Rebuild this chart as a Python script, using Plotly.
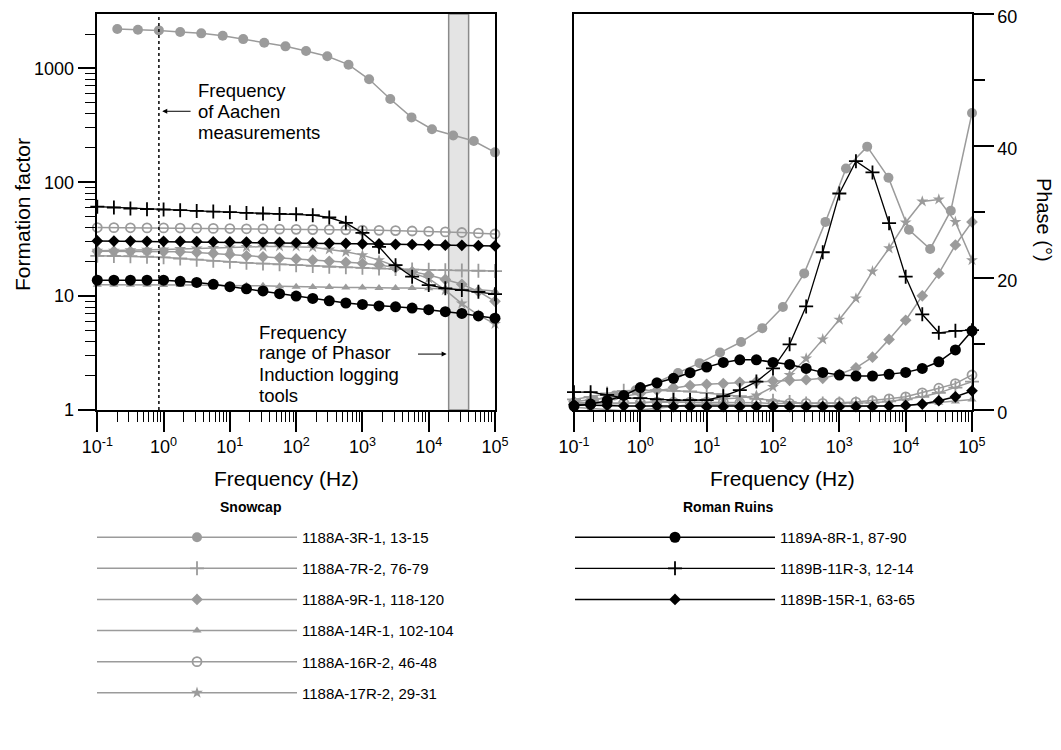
import math
import plotly.graph_objects as go

# ---------------- data ----------------
# frequencies (Hz), 4 per decade
freq = [0.1, 0.178, 0.316, 0.562, 1, 1.78, 3.16, 5.62, 10, 17.8, 31.6, 56.2,
        100, 178, 316, 562, 1000, 1780, 3160, 5620, 10000, 17800, 31600, 56200, 100000]
# frequencies for sample 1188A-3R-1
freq_3r1 = [0.2, 0.41, 0.85, 1.78, 3.7, 7.8, 15.9, 33, 69, 141, 295, 617, 1260,
            2630, 5500, 11200, 23400, 47900, 100000]

# formation factor
ff_3r1 = [2213, 2183, 2154, 2084, 2028, 1935, 1806, 1678, 1560, 1419, 1275, 1077, 801,
          538, 371, 292, 257, 230, 183]
ff_7r2 = [22.6, 22.5, 22.4, 22.2, 21.9, 21.4, 20.9, 20.4, 20.0, 19.6, 19.3, 19.0, 18.7,
          18.4, 18.1, 17.9, 17.7, 17.5, 17.3, 17.1, 17.0, 16.9, 16.8, 16.7, 16.6]
ff_9r1 = [24.8, 24.8, 24.7, 24.7, 24.6, 24.5, 24.2, 23.7, 23.2, 22.6, 22.1, 21.7, 21.2,
          20.7, 20.2, 19.8, 19.4, 18.8, 17.8, 16.4, 15.3, 14.0, 12.7, 11.0, 9.0]
ff_14r1 = [12.6, 12.6, 12.6, 12.6, 12.5, 12.5, 12.5, 12.4, 12.4, 12.3, 12.3, 12.2, 12.1,
           12.0, 12.0, 11.9, 11.9, 11.8, 11.8, 11.8, 11.7, 11.7, 11.6, 11.4, 11.1]
ff_16r2 = [40.0, 39.9, 39.8, 39.7, 39.7, 39.6, 39.5, 39.3, 39.2, 39.0, 38.9, 38.7, 38.6,
           38.4, 38.3, 38.2, 38.0, 37.8, 37.6, 37.3, 37.0, 36.6, 36.2, 35.7, 35.1]
ff_17r2 = [25.0, 25.1, 25.3, 25.5, 25.7, 25.9, 26.2, 26.5, 26.8, 27.0, 27.2, 27.3, 27.3,
           26.9, 25.7, 24.5, 22.9, 20.7, 18.3, 16.0, 14.3, 11.3, 8.6, 6.8, 5.7]
ff_8r1 = [13.8, 13.8, 13.8, 13.8, 13.8, 13.5, 13.2, 12.7, 12.1, 11.6, 11.1, 10.5, 10.0,
          9.55, 9.1, 8.7, 8.45, 8.2, 8.05, 7.85, 7.6, 7.3, 7.05, 6.7, 6.4]
ff_11r3 = [61.0, 60.0, 58.8, 58.0, 57.6, 56.8, 56.0, 55.3, 54.6, 53.8, 53.1, 52.7, 52.4,
           51.4, 49.0, 44.0, 35.9, 27.1, 18.7, 14.8, 12.5, 11.7, 11.3, 10.9, 10.4]
ff_15r1 = [30.5, 30.4, 30.4, 30.3, 30.3, 30.2, 30.1, 30.0, 29.9, 29.8, 29.7, 29.6, 29.4,
           29.3, 29.1, 29.0, 28.8, 28.7, 28.5, 28.4, 28.2, 28.0, 27.9, 27.7, 27.6]

# phase (degrees)
ph_3r1 = [1.5, 2.2, 3.0, 4.2, 5.6, 7.1, 8.7, 10.3, 12.4, 15.6, 20.7, 28.5, 36.6,
          39.9, 35.2, 27.3, 24.4, 30.2, 45.0]
ph_7r2 = [1.6, 2.0, 2.5, 2.9, 3.0, 3.0, 2.9, 2.8, 2.6, 2.4, 2.1, 1.7, 1.4,
          1.2, 1.0, 1.0, 1.0, 1.0, 1.1, 1.3, 1.6, 2.0, 2.6, 3.4, 4.3]
ph_9r1 = [1.3, 1.5, 1.8, 2.1, 2.5, 3.0, 3.4, 3.7, 3.9, 4.0, 4.2, 4.3, 4.4,
          4.5, 4.6, 4.8, 5.4, 6.4, 8.0, 10.7, 13.6, 17.3, 20.7, 25.0, 28.5]
ph_14r1 = [0.4, 0.2, 0.0, -0.1, 0.0, 0.3, 0.6, 0.8, 0.9, 0.9, 0.8, 0.7, 0.6,
           0.5, 0.5, 0.5, 0.5, 0.5, 0.6, 0.6, 0.7, 0.9, 1.1, 1.3, 1.6]
ph_16r2 = [1.0, 1.0, 1.0, 1.1, 1.1, 1.2, 1.2, 1.2, 1.2, 1.2, 1.1, 1.1, 1.0,
           1.0, 1.0, 1.0, 1.1, 1.2, 1.4, 1.7, 2.0, 2.6, 3.3, 4.0, 5.3]
ph_17r2 = [1.2, 1.0, 0.9, 1.0, 1.1, 1.2, 1.3, 1.4, 1.5, 1.7, 1.8, 2.2, 3.5,
           5.3, 7.8, 10.7, 13.7, 16.9, 21.0, 24.5, 28.4, 31.6, 31.9, 28.5, 22.7]
ph_8r1 = [0.6, 0.9, 1.4, 2.2, 3.4, 4.1, 4.8, 5.65, 6.5, 7.2, 7.6, 7.6, 7.2,
          6.9, 6.3, 5.7, 5.3, 5.15, 5.15, 5.4, 5.7, 6.3, 7.3, 9.1, 12.0]
ph_11r3 = [2.7, 2.7, 2.3, 1.8, 1.8, 1.6, 1.5, 1.5, 1.5, 2.1, 3.0, 4.3, 6.3,
           9.95, 15.7, 23.9, 32.8, 37.7, 36.0, 28.3, 20.2, 14.5, 11.7, 12.0, 12.1]
ph_15r1 = [0.8, 0.7, 0.7, 0.6, 0.6, 0.6, 0.5, 0.5, 0.5, 0.5, 0.5, 0.5, 0.5,
           0.5, 0.5, 0.5, 0.5, 0.5, 0.5, 0.6, 0.7, 0.9, 1.4, 2.0, 2.9]

labels_snowcap = ["1188A-3R-1, 13-15", "1188A-7R-2, 76-79", "1188A-9R-1, 118-120",
                  "1188A-14R-1, 102-104", "1188A-16R-2, 46-48", "1188A-17R-2, 29-31"]
labels_roman = ["1189A-8R-1, 87-90", "1189B-11R-3, 12-14", "1189B-15R-1, 63-65"]

x_tickvals = [0.1, 1, 10, 100, 1000, 10000, 100000]
x_ticktext = ["10<sup>-1</sup>", "10<sup>0</sup>", "10<sup>1</sup>", "10<sup>2</sup>",
              "10<sup>3</sup>", "10<sup>4</sup>", "10<sup>5</sup>"]
ff_tickvals = [1, 10, 100, 1000]
ph_tickvals = [0, 20, 40, 60]
ph_minor = [10, 30, 50]

aachen_freq = 0.85
phasor_band = [20000, 40000]

aachen_lines = ["Frequency", "of Aachen", "measurements"]
phasor_lines = ["Frequency", "range of Phasor", "Induction logging", "tools"]

# ---------------- style ----------------
GRAY = "#9b9b9b"
BLACK = "#000000"
FONT = "Liberation Sans, Arial, Helvetica, sans-serif"

styles = {
    "3r1": dict(color=GRAY, symbol="circle", size=10, lw=1.5, open=False),
    "7r2": dict(color=GRAY, symbol="cross-thin", size=10, lw=1.5, open=True),
    "9r1": dict(color=GRAY, symbol="diamond", size=9, lw=1.5, open=False),
    "14r1": dict(color=GRAY, symbol="triangle-up", size=8, lw=1.5, open=False),
    "16r2": dict(color=GRAY, symbol="circle-open", size=9, lw=1.5, open=True),
    "17r2": dict(color=GRAY, symbol="star", size=9, lw=1.5, open=False),
    "8r1": dict(color=BLACK, symbol="circle", size=11, lw=1.5, open=False),
    "11r3": dict(color=BLACK, symbol="cross-thin", size=10, lw=1.3, open=True),
    "15r1": dict(color=BLACK, symbol="diamond", size=9, lw=1.5, open=False),
}

series = [
    ("3r1", labels_snowcap[0], freq_3r1, ff_3r1, ph_3r1, "legend"),
    ("7r2", labels_snowcap[1], freq, ff_7r2, ph_7r2, "legend"),
    ("9r1", labels_snowcap[2], freq, ff_9r1, ph_9r1, "legend"),
    ("14r1", labels_snowcap[3], freq, ff_14r1, ph_14r1, "legend"),
    ("16r2", labels_snowcap[4], freq, ff_16r2, ph_16r2, "legend"),
    ("17r2", labels_snowcap[5], freq, ff_17r2, ph_17r2, "legend"),
    ("8r1", labels_roman[0], freq, ff_8r1, ph_8r1, "legend2"),
    ("11r3", labels_roman[1], freq, ff_11r3, ph_11r3, "legend2"),
    ("15r1", labels_roman[2], freq, ff_15r1, ph_15r1, "legend2"),
]

fig = go.Figure()

for key, name, fx, ffv, phv, leg in series:
    s = styles[key]
    marker = dict(symbol=s["symbol"], size=s["size"], color=s["color"],
                  line=dict(width=(1.8 if s["open"] else 0), color=s["color"]))
    fig.add_trace(go.Scatter(
        x=fx, y=ffv, mode="lines+markers", name=name, legend=leg, legendgroup=key,
        line=dict(color=s["color"], width=s["lw"]), marker=marker,
        xaxis="x", yaxis="y", cliponaxis=False, showlegend=True))
    fig.add_trace(go.Scatter(
        x=fx, y=phv, mode="lines+markers", name=name, legend=leg, legendgroup=key,
        line=dict(color=s["color"], width=s["lw"]), marker=marker,
        xaxis="x2", yaxis="y2", cliponaxis=False, showlegend=False))

# The page body has an 8px margin, so the figure is drawn 8px right/down of the
# window origin: size the figure to the remaining area and place in window pixels.
OFF = 8
W, H = 1061 - OFF, 750 - OFF


def px(x):
    return (x - OFF) / W


def py(y):
    return 1 - (y - OFF) / H


yd = [py(410), py(14)]


def minor_log(lo, hi):
    vals = []
    for e in range(lo, hi):
        for m in range(2, 10):
            vals.append(m * 10 ** e)
    return vals


TICKFONT = dict(size=18, color="black", family=FONT)

xaxis_common = dict(
    type="log", range=[-1, 5], tickvals=x_tickvals, ticktext=x_ticktext,
    ticks="outside", ticklen=20, tickwidth=1.5, tickcolor="black",
    minor=dict(tickvals=minor_log(-1, 5), ticks="outside", ticklen=10, tickwidth=1.3,
               tickcolor="black", showgrid=False),
    showline=True, linewidth=1.5, linecolor="black", mirror=True,
    showgrid=False, zeroline=False, tickfont=TICKFONT, automargin=False,
    ticklabeloverflow="allow",
)

legend_common = dict(
    yanchor="top", xanchor="left", itemwidth=200, tracegroupgap=8.6,
    font=dict(size=15, family=FONT, color="black"), bgcolor="rgba(0,0,0,0)",
    itemclick=False, itemdoubleclick=False, borderwidth=0,
)

fig.update_layout(
    template="none",
    width=W, height=H,
    margin=dict(l=0, r=0, t=0, b=0, pad=0),
    paper_bgcolor="white", plot_bgcolor="white",
    font=dict(family=FONT, color="black"),
    showlegend=True,
    xaxis=dict(domain=[px(97.3), px(495)], anchor="y", **xaxis_common),
    xaxis2=dict(domain=[px(574), px(972)], anchor="y2", **xaxis_common),
    yaxis=dict(domain=yd, anchor="x", type="log", range=[0, math.log10(3000)],
               tickvals=ff_tickvals, ticktext=[str(v) for v in ff_tickvals],
               ticks="outside", ticklen=18, tickwidth=1.5, tickcolor="black",
               minor=dict(tickvals=minor_log(0, 3) + [2000], ticks="outside", ticklen=11,
                          tickwidth=1.3, tickcolor="black", showgrid=False),
               showline=True, linewidth=1.5, linecolor="black", mirror=True,
               showgrid=False, zeroline=False, tickfont=TICKFONT, automargin=False,
               ticklabeloverflow="allow"),
    yaxis2=dict(domain=yd, anchor="x2", side="right", range=[0, 60],
                tickvals=ph_tickvals, ticks="outside", ticklen=20, tickwidth=1.5,
                tickcolor="black",
                minor=dict(tickvals=ph_minor, ticks="outside", ticklen=11, tickwidth=1.5,
                           tickcolor="black", showgrid=False),
                showline=True, linewidth=1.5, linecolor="black", mirror=True,
                showgrid=False, zeroline=False, tickfont=TICKFONT, automargin=False,
                ticklabeloverflow="allow", ticklabelshift=3),
    legend=dict(x=px(92), y=py(521), **legend_common),
    legend2=dict(x=px(570), y=py(521), **legend_common),
)

# shapes: phasor band and Aachen frequency line (data coordinates)
fig.add_shape(type="rect", xref="x", yref="y domain",
              x0=phasor_band[0], x1=phasor_band[1], y0=0, y1=1,
              fillcolor="#e4e4e4", line=dict(color="#8a8a8a", width=1.5), layer="below")
fig.add_shape(type="line", xref="x", yref="y domain",
              x0=aachen_freq, x1=aachen_freq, y0=0, y1=1,
              line=dict(color="black", width=1.5, dash="dot"))

# annotation text, one line per annotation (tight line spacing as in the reference)
ANN = dict(size=18.5, family=FONT, color="black")
for i, t in enumerate(aachen_lines):
    fig.add_annotation(xref="x", yref="paper", x=0.489, y=py(90 + 21 * i),
                       xanchor="left", yanchor="middle", showarrow=False, font=ANN, text=t)
for i, t in enumerate(phasor_lines):
    fig.add_annotation(xref="x", yref="paper", x=1.409, y=py(332 + 21 * i),
                       xanchor="left", yanchor="middle", showarrow=False, font=ANN, text=t)

# arrows
fig.add_annotation(xref="x", yref="y", x=-0.02, y=2.623, ax=0.43, ay=2.623,
                   axref="x", ayref="y", text="", showarrow=True, arrowhead=2,
                   arrowsize=1, arrowwidth=1, arrowcolor="black")
fig.add_annotation(xref="x", yref="y", x=4.27, y=0.491, ax=3.816, ay=0.491,
                   axref="x", ayref="y", text="", showarrow=True, arrowhead=2,
                   arrowsize=1, arrowwidth=1, arrowcolor="black")

# axis titles
TITLE = dict(size=21, family=FONT, color="black")
fig.add_annotation(xref="paper", yref="paper", x=px(23), y=py(215), textangle=-90,
                   xanchor="center", yanchor="middle",
                   showarrow=False, text="Formation factor", font=TITLE)
fig.add_annotation(xref="paper", yref="paper", x=px(286), y=py(478),
                   xanchor="center", yanchor="middle",
                   showarrow=False, text="Frequency (Hz)", font=TITLE)
fig.add_annotation(xref="paper", yref="paper", x=px(782), y=py(478),
                   xanchor="center", yanchor="middle",
                   showarrow=False, text="Frequency (Hz)", font=TITLE)
fig.add_annotation(xref="paper", yref="paper", x=px(1044), y=py(220), textangle=90,
                   xanchor="center", yanchor="middle",
                   showarrow=False, text="Phase (°)", font=dict(size=20, family=FONT,
                                                              color="black"))

# legend headers
HEAD = dict(size=14, family=FONT, color="black")
fig.add_annotation(xref="paper", yref="paper", x=px(250), y=py(507),
                   xanchor="center", yanchor="middle",
                   showarrow=False, text="<b>Snowcap</b>", font=HEAD)
fig.add_annotation(xref="paper", yref="paper", x=px(728), y=py(507),
                   xanchor="center", yanchor="middle",
                   showarrow=False, text="<b>Roman Ruins</b>", font=HEAD)

fig.write_html("out.html")
